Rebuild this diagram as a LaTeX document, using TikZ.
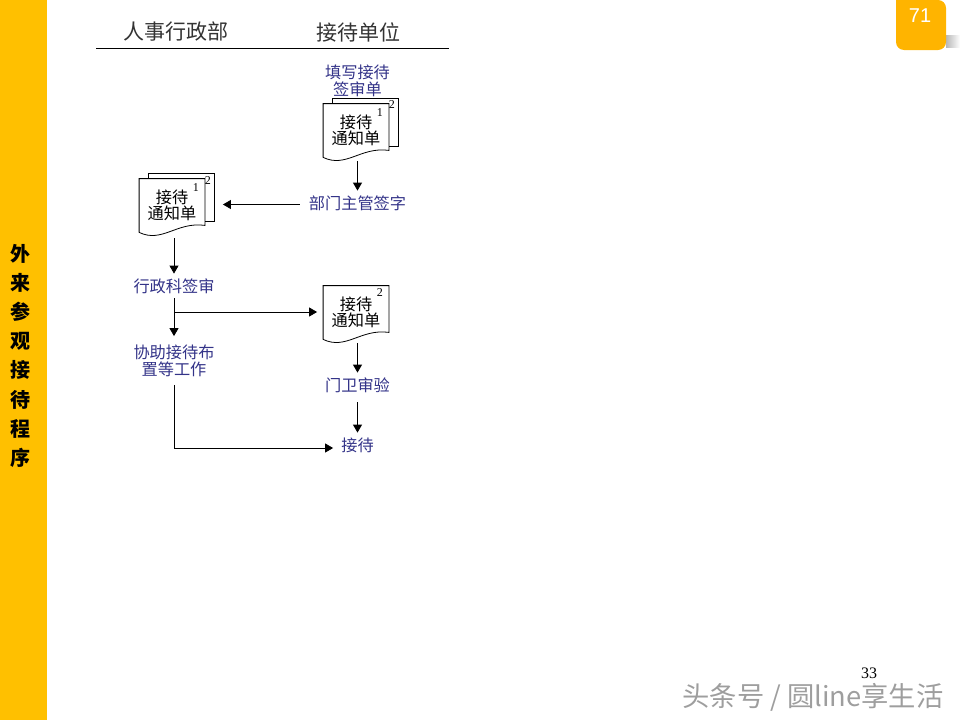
\documentclass[tikz,border=0pt]{standalone}
\usepackage{fontspec}
\setmainfont{Noto Sans CJK SC}
\newfontfamily\numfont{Liberation Serif}
\newfontfamily\badgefont{Liberation Sans}
\usetikzlibrary{arrows.meta, positioning}
\definecolor{stripcolor}{HTML}{FFC000}
\definecolor{badgecolor}{HTML}{FFB400}
\definecolor{taskcolor}{HTML}{333388}
\tikzset{> = { Triangle[length = 8pt, width = 9pt] }}
\newcommand{\docoutline}[1]{\draw ([yshift = 4pt]#1.south west) -- (#1.north west) -- (#1.north east) -- ([yshift = 11pt]#1.south east) .. controls ([xshift = -28pt, yshift = 15pt]#1.south east) and ([xshift = 23pt, yshift = -7pt]#1.south west) .. ([yshift = 4pt]#1.south west);}
\newcommand{\docback}[1]{\draw ([xshift = 9pt]#1.north west) -- ([xshift = 9pt, yshift = 5pt]#1.north west) -- ([xshift = 9pt, yshift = 5pt]#1.north east) -- ([xshift = 9pt, yshift = 15pt]#1.south east) -- ([yshift = 15pt]#1.south east);}

\begin{document}
\begin{tikzpicture}[x = 1pt, y = -1pt, line width = 0.8pt,
	heading/.style = { inner sep = 0pt, text = black!80, font = \fontsize{21pt}{22pt}\selectfont },
	taskone/.style = { align = center, inner sep = 0pt, minimum height = 24pt, minimum width = 48pt, text = taskcolor, font = \fontsize{16.2pt}{17pt}\selectfont },
	tasktwo/.style = { taskone, minimum height = 48pt },
	sheetno/.style = { inner sep = 0pt, font = \numfont\fontsize{12pt}{12pt}\selectfont },
	doc/.style = { align = center, inner sep = 0pt, minimum width = 65pt, minimum height = 57pt, text depth = 5pt, font = \fontsize{16.2pt}{16.2pt}\selectfont }]
	\useasboundingbox (0,0) rectangle (960,720);

	\fill [stripcolor] (0,0) rectangle (47,720);
	\foreach \ch [count = \i from 0] in {外,来,参,观,接,待,程,序}
		\node [inner sep = 0pt, font = \bfseries\fontsize{20pt}{22pt}\selectfont] (side\i) at (20, 254 + 29.1 * \i) {\ch};

	\shade [left color = black!28, right color = white] (946,35) rectangle (960,47);
	\fill [badgecolor] (896,0) [rounded corners = 8pt] -- (896,50) -- (946,50) -- (946,0) [sharp corners] -- cycle;
	\node [inner sep = 0pt, text = white, font = \badgefont\fontsize{20pt}{22pt}\selectfont] (badge) at (920,16) {71};

	\node [heading] (deptA) at (176,32) {人事行政部};
	\node [heading] (deptB) at (358,32) {接待单位};
	\coordinate (ruleL) at (96,48);
	\coordinate (ruleR) at (449,48);
	\draw (ruleL) -- (ruleR);

	\node [tasktwo] (fill) at (357.5,81) {填写接待\\签审单};
	\node [taskone] (sign) at (357.5,203) {部门主管签字};
	\node [taskone] (review) at (174,286) {行政科签审};
	\node [tasktwo] (assist) at (174,360.5) {协助接待布\\置等工作};
	\node [taskone] (verify) at (357.5,385) {门卫审验};
	\node [taskone] (reception) at (357.5,445) {接待};

	\node [doc] (doc1) at (356,132.5) {接待\\通知单};
	\node [doc] (doc2) at (172,207.5) {接待\\通知单};
	\node [doc] (doc3) at (356,314.5) {接待\\通知单};
	\docoutline{doc1}
	\docoutline{doc2}
	\docoutline{doc3}
	\docback{doc1}
	\docback{doc2}

	\node [sheetno] (no1a) at ([shift = {(-9pt, -9pt)}]doc1.north east) {1};
	\node [sheetno] (no1b) at ([shift = {(3pt, -1pt)}]doc1.north east) {2};
	\node [sheetno] (no2a) at ([shift = {(-9pt, -9pt)}]doc2.north east) {1};
	\node [sheetno] (no2b) at ([shift = {(3pt, -2pt)}]doc2.north east) {2};
	\node [sheetno] (no3) at ([shift = {(-9pt, -7pt)}]doc3.north east) {2};

	\coordinate (fork) at (174,312);

	\draw [->] (sign.north |- doc1.south) -- (sign.north);
	\draw [->, shorten < = 9pt, shorten > = 18pt] ([yshift = -1.5pt]sign.west) -- ([yshift = -1.5pt]sign.west -| doc2.east);
	\draw [->, shorten < = 2pt] (review.north |- doc2.south) -- (review.north);
	\draw [->] (review.south) -- (assist.north);
	\draw [->, shorten > = 6pt] (fork) -- (fork -| doc3.west);
	\draw [->] (verify.north |- doc3.south) -- (verify.north);
	\draw [->, shorten < = 5pt] (verify.south) -- (reception.north);
	\draw [->] (assist.south) |- ([yshift = -3pt]reception.west);

	\node [inner sep = 0pt, font = \numfont\fontsize{16pt}{18pt}\selectfont] (page) at (869,673) {33};
	\node [inner sep = 0pt, text = black!38, font = \fontsize{27.3pt}{30pt}\selectfont] (mark) at (813,697) {头条号 / 圆line享生活};
\end{tikzpicture}
\end{document}
